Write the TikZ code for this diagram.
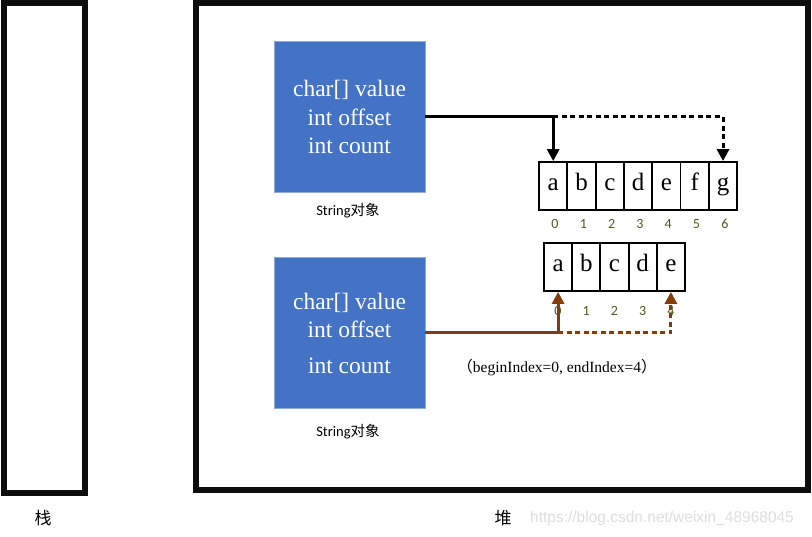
\documentclass[tikz,border=0pt]{standalone}
\usepackage{fontspec}
\setmainfont{Liberation Serif}
\newfontfamily\cjk{Noto Sans CJK SC}
\newfontfamily\uifont{Carlito}
\newfontfamily\markfont{Liberation Sans}
\usetikzlibrary{arrows.meta, positioning}

\definecolor{objblue}{RGB}{68,114,196}
\definecolor{objedge}{RGB}{143,170,220}
\definecolor{refbrown}{RGB}{132,60,12}
\definecolor{idxcolor}{RGB}{79,90,30}

\tikzset{
  wall/.style={draw=black!95, line width=6pt},
  strobj/.style={fill=objblue, draw=objedge, line width=0.8pt,
    minimum width=151pt, minimum height=151pt, inner sep=0pt,
    text=white, align=center, font=\fontsize{23.5}{28.5}\selectfont},
  cell/.style={draw, line width=1.8pt, minimum width=28.3pt,
    minimum height=48pt, inner sep=0pt, text height=16pt, text depth=6pt,
    font=\fontsize{25}{25}\selectfont},
  idx/.style={text=idxcolor, inner sep=0pt, font=\uifont\fontsize{14}{14}\selectfont},
  caption/.style={inner sep=0pt, font=\uifont\fontsize{14.5}{14.5}\selectfont},
  ref/.style={line width=3pt, -{Triangle[width=12pt, length=12pt]}},
  dashref/.style={ref, dash pattern=on 5pt off 3.5pt},
}

\begin{document}
\begin{tikzpicture}[x=1pt, y=-1pt]
  \useasboundingbox (0, 0) rectangle (812, 537);

  \draw[wall] (3.5, 3) rectangle (84.5, 493);
  \draw[wall] (196, 3) rectangle (808, 490);
  \node[inner sep=0pt, font=\cjk\fontsize{17}{17}\selectfont] (stacklbl) at (43, 518) {栈};
  \node[inner sep=0pt, font=\cjk\fontsize{17}{17}\selectfont] (heaplbl) at (503, 518) {堆};
  \node[inner sep=0pt, anchor=west, text=black!13,
    font=\markfont\fontsize{15.5}{15.5}\selectfont] (mark) at (530, 518)
    {https://blog.csdn.net/weixin\_48968045};

  \node[strobj] (obj1) at (349.5, 117) {char[] value\\int offset\\int count};
  \node[caption] (cap1) at (348, 211) {String{\cjk 对象}};

  \node[strobj] (obj2) at (349.5, 333) {char[] value\\int offset\\[7pt]int count};
  \node[caption] (cap2) at (348, 432) {String{\cjk 对象}};

  % the whole array
  \foreach \ch [count=\i from 0] in {a, b, c, d, e, f, g} {
    \node[cell] (s\i) at ({553.2 + 28.3*\i}, 186) {\ch};
    \node[idx] (si\i) at ({555 + 28.3*\i}, 224) {\i};
  }

  % the substring
  \foreach \ch [count=\i from 0] in {a, b, c, d, e} {
    \node[cell] (t\i) at ({558.1 + 28.2*\i}, 267) {\ch};
    \node[idx] (ti\i) at ({558 + 28.2*\i}, 311) {\i};
  }

  \coordinate (bend1) at (s0.north |- obj1.east);
  \coordinate (bend2) at (t0.south |- obj2.east);

  \draw[ref] (obj1.east) -| (s0.north);
  \draw[dashref] (bend1) -| (s6.north);

  \draw[ref, refbrown] (obj2.east) -| (t0.south);
  \draw[dashref, refbrown] (bend2) -| (t4.south);

  \node[inner sep=0pt, font=\fontsize{15.5}{15.5}\selectfont] (range) at (557, 368)
    {{\cjk （}beginIndex=0, endIndex=4{\cjk ）}};
\end{tikzpicture}
\end{document}
